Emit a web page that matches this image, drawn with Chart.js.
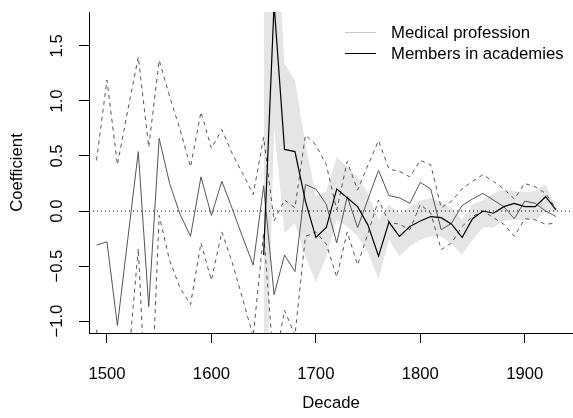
<!DOCTYPE html>
<html><head><meta charset="utf-8">
<script src="https://cdn.jsdelivr.net/npm/chart.js@4/dist/chart.umd.min.js"></script>
<style>html,body{margin:0;padding:0;background:#fff}canvas{display:block}</style>
</head><body>
<canvas id="c" width="573" height="418"></canvas>
<script>
const decades = [1490,1500,1510,1520,1530,1540,1550,1560,1570,1580,1590,1600,1610,1620,1630,1640,1650,1660,1670,1680,1690,1700,1710,1720,1730,1740,1750,1760,1770,1780,1790,1800,1810,1820,1830,1840,1850,1860,1870,1880,1890,1900,1910,1920,1930];
const medicalCoef  = [-0.31,-0.28,-1.04,-0.25,0.54,-0.87,0.66,0.25,-0.03,-0.23,0.31,-0.04,0.27,0.02,-0.24,-0.49,0.23,-0.76,-0.40,-0.55,0.24,0.20,0.06,-0.29,0.13,-0.15,0.11,0.37,0.14,0.12,0.07,0.26,0.20,-0.17,-0.11,0.05,0.11,0.16,0.10,0.04,-0.07,0.09,0.07,0.00,-0.05];
const medicalUpper = [0.46,1.19,0.42,0.92,1.40,0.58,1.37,1.04,0.74,0.40,0.90,0.57,0.74,0.52,0.34,0.15,0.67,-0.09,0.10,0.03,0.69,0.60,0.42,0.01,0.45,0.19,0.42,0.64,0.38,0.36,0.31,0.46,0.42,0.03,0.09,0.20,0.27,0.33,0.27,0.20,0.11,0.25,0.22,0.16,0.02];
const medicalLower = [-1.08,-1.75,-2.50,-1.42,-0.34,-2.32,-0.04,-0.45,-0.70,-0.85,-0.29,-0.63,-0.19,-0.47,-0.80,-1.14,-0.20,-1.43,-0.90,-1.13,-0.23,-0.19,-0.30,-0.60,-0.19,-0.49,-0.20,0.10,-0.10,-0.12,-0.17,0.06,-0.02,-0.35,-0.29,-0.14,-0.05,0.00,-0.06,-0.12,-0.23,-0.07,-0.08,-0.12,-0.11];
const academyCoef  = [null,null,null,null,null,null,null,null,null,null,null,null,null,null,null,null,-0.40,1.88,0.56,0.54,0.09,-0.24,-0.15,0.20,0.12,0.04,-0.13,-0.41,-0.10,-0.23,-0.14,-0.09,-0.05,-0.06,-0.12,-0.24,-0.07,0.00,-0.02,0.04,0.07,0.04,0.04,0.13,0.01];
const academyUpper = [null,null,null,null,null,null,null,null,null,null,null,null,null,null,null,null,1.95,3.00,1.34,1.19,0.61,0.14,0.18,0.49,0.40,0.31,0.16,-0.08,0.06,-0.02,0.04,0.09,0.12,0.08,0.03,-0.08,0.06,0.10,0.16,0.19,0.18,0.17,0.18,0.24,0.03];
const academyLower = [null,null,null,null,null,null,null,null,null,null,null,null,null,null,null,null,-2.75,0.76,-0.20,-0.11,-0.41,-0.65,-0.41,-0.08,-0.14,-0.23,-0.38,-0.62,-0.26,-0.41,-0.32,-0.26,-0.23,-0.23,-0.30,-0.40,-0.26,-0.15,-0.15,-0.09,-0.08,-0.08,-0.08,-0.01,0.00];
const xTickValues = [1500,1600,1700,1800,1900];
const yTickValues = [-1.0,-0.5,0.0,0.5,1.0,1.5];
const yTickLabels = ['\u22121.0','\u22120.5','0.0','0.5','1.0','1.5'];
const seriesLabels = ['Medical profession','Members in academies'];
const xRange = [1482.8, 1946.2];
const yRange = [-1.108, 1.808];

const FONT = "'Liberation Sans', Arial, Helvetica, sans-serif";
const FS = 16.7;
const pts = arr => decades.map((d,i)=>({x:d, y:arr[i]}));

const overlay = {
  id: 'overlay',
  afterDraw(chart){
    const ctx = chart.ctx, ys = chart.scales.y;
    ctx.save();
    ctx.fillStyle = '#000';
    ctx.font = FS + 'px ' + FONT;
    yTickValues.forEach((v,i)=>{
      const y = ys.getPixelForValue(v);
      ctx.save();
      ctx.translate(57, y);
      ctx.rotate(-Math.PI/2);
      ctx.textAlign = 'center';
      ctx.textBaseline = 'middle';
      ctx.fillText(yTickLabels[i], 0, 0);
      ctx.restore();
    });
    const legColors = ['#c8c8c8', '#000000'];
    seriesLabels.forEach((lab,i)=>{
      const y = 32 + 21*i;
      ctx.strokeStyle = legColors[i];
      ctx.lineWidth = 1;
      ctx.beginPath();
      ctx.moveTo(345, y + 0.5);
      ctx.lineTo(376, y + 0.5);
      ctx.stroke();
      ctx.textAlign = 'left';
      ctx.textBaseline = 'middle';
      ctx.fillText(lab, 391, y + 1);
    });
    ctx.restore();
  }
};

new Chart(document.getElementById('c'), {
  type: 'line',
  data: {
    datasets: [
      { label: 'academyUpper', data: pts(academyUpper), borderWidth: 0, borderColor: 'rgba(0,0,0,0)', backgroundColor: '#e5e5e5', fill: '+1', pointRadius: 0, order: 10, clip: 0 },
      { label: 'academyLower', data: pts(academyLower), borderWidth: 0, borderColor: 'rgba(0,0,0,0)', fill: false, pointRadius: 0, order: 9, clip: 0 },
      { label: 'zero', data: [{x: xRange[0], y: 0}, {x: xRange[1], y: 0}], borderColor: '#000', borderWidth: 1, borderDash: [1,3], pointRadius: 0, fill: false, order: 8, clip: 0 },
      { label: 'medicalUpper', data: pts(medicalUpper), borderColor: '#555', borderWidth: 1, borderDash: [4,4], pointRadius: 0, fill: false, order: 7, clip: 0 },
      { label: 'medicalLower', data: pts(medicalLower), borderColor: '#555', borderWidth: 1, borderDash: [4,4], pointRadius: 0, fill: false, order: 6, clip: 0 },
      { label: seriesLabels[0], data: pts(medicalCoef), borderColor: '#555', borderWidth: 1, pointRadius: 0, fill: false, order: 5, clip: 0 },
      { label: seriesLabels[1], data: pts(academyCoef), borderColor: '#000', borderWidth: 1.2, pointRadius: 0, fill: false, order: 1, clip: 0 }
    ]
  },
  options: {
    responsive: false,
    animation: false,
    devicePixelRatio: 1,
    layout: { padding: { top: 12, right: 0, left: 0, bottom: 0 } },
    elements: { line: { tension: 0 } },
    plugins: { legend: { display: false }, tooltip: { enabled: false } },
    scales: {
      x: {
        type: 'linear', min: xRange[0], max: xRange[1],
        afterBuildTicks: s => { s.ticks = xTickValues.map(v=>({value:v})); },
        afterFit: s => { s.height = 85; },
        grid: { drawOnChartArea: false, drawTicks: true, tickLength: 10, tickColor: '#000', lineWidth: 1 },
        border: { display: true, color: '#000', width: 1 },
        ticks: { color: '#000', font: { family: FONT, size: FS }, padding: 21, maxRotation: 0, autoSkip: false, callback: v => String(v) },
        title: { display: true, text: 'Decade', color: '#000', font: { family: FONT, size: FS }, padding: { top: 0, bottom: 5 } }
      },
      y: {
        type: 'linear', min: yRange[0], max: yRange[1],
        afterBuildTicks: s => { s.ticks = yTickValues.map(v=>({value:v})); },
        afterFit: s => { s.width = 89; },
        grid: { drawOnChartArea: false, drawTicks: true, tickLength: 10, tickColor: '#000', lineWidth: 1 },
        border: { display: true, color: '#000', width: 1 },
        ticks: { display: false },
        title: { display: true, text: 'Coefficient', color: '#000', font: { family: FONT, size: FS }, padding: { top: 7, bottom: 0 } }
      }
    }
  },
  plugins: [overlay]
});
</script>
</body></html>
